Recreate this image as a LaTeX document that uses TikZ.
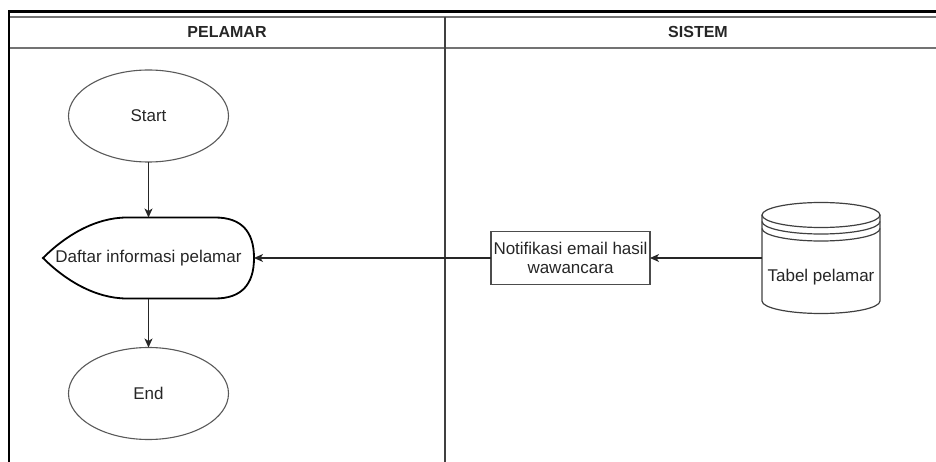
\documentclass[tikz,border=0pt]{standalone}
\usepackage{fontspec}
\setmainfont{Liberation Sans}
\usetikzlibrary{shapes.geometric,arrows.meta}
\begin{document}
\begin{tikzpicture}[x=1pt,y=-1pt,
  every node/.style={outer sep=0pt, inner sep=0pt, text=black!85,
    font=\fontsize{17}{19}\selectfont},
  terminal/.style={ellipse, draw=black!65, line width=1.1pt,
    minimum width=160pt, minimum height=92pt},
  procbox/.style={rectangle, draw=black!70, line width=1.4pt,
    minimum width=159pt, minimum height=53pt, align=center},
  ghost/.style={rectangle, draw=none},
  flow/.style={draw=black!85, line width=1.2pt,
    -{Stealth[length=9pt,width=8pt,inset=2.5pt]}},
  laneline/.style={draw=black!55, line width=1.6pt},
  lanehead/.style={font=\bfseries\fontsize{16}{19}\selectfont}
]
\useasboundingbox (0,0) rectangle (936,462);

% pool frame and lane headers
\draw[laneline] (9,17) -- (936,17);
\draw[laneline] (9,48) -- (936,48);
\draw[black!75, line width=1.2pt] (445,17) -- (445,462);
\draw[black, line width=2.4pt] (9,462) -- (9,11.5) -- (936,11.5);
\node[lanehead] (hpel) at (227,32) {PELAMAR};
\node[lanehead] (hsis) at (698,32) {SISTEM};

% applicant lane
\node[terminal] (start) at (148.5,116) {Start};
\node[ghost, minimum width=211pt, minimum height=81pt] (disp) at (148.5,258)
  {Daftar informasi pelamar};
\draw[black, line width=1.8pt]
  (disp.west) .. controls (65,236) and (95,217.5) .. (127,217.5)
  -- (215,217.5) .. controls (241,217.5) and (254,231) .. (disp.east)
  .. controls (254,285) and (241,298.5) .. (215,298.5)
  -- (127,298.5) .. controls (95,298.5) and (65,280) .. cycle;
\node[terminal] (end) at (148.5,393.5) {End};

% system lane
\node[procbox] (notif) at (570.5,258) {Notifikasi email hasil\\wawancara};
\node[ghost, minimum width=118pt, minimum height=111pt] (db) at (821,258) {};
\draw[black!75, line width=1.2pt]
  (762,215) -- (762,301)
  arc[start angle=180, end angle=360, x radius=59pt, y radius=12.5pt]
  -- (880,215);
\draw[black!75, line width=1.2pt] (821,215) ellipse [x radius=59pt, y radius=12.5pt];
\draw[black!75, line width=1.2pt] (762,221.5)
  arc[start angle=180, end angle=360, x radius=59pt, y radius=12.5pt];
\draw[black!75, line width=1.2pt] (762,228.5)
  arc[start angle=180, end angle=360, x radius=59pt, y radius=12.5pt];
\node (dblabel) at (821,277) {Tabel pelamar};

% flows
\draw[flow] (start.south) -- (disp.north);
\draw[flow] (disp.south) -- (end.north);
\draw[flow] (db.west) -- (notif.east);
\draw[flow] (notif.west) -- (disp.east);
\end{tikzpicture}
\end{document}
